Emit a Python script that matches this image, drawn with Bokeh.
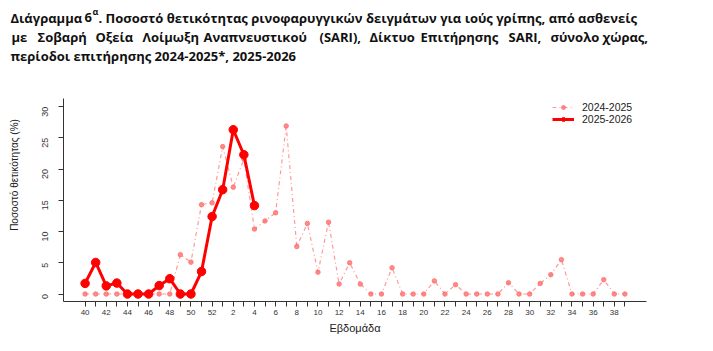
import math
from bokeh.plotting import figure
from bokeh.models import Legend, LegendItem, FixedTicker, Range1d
from bokeh.layouts import column
from bokeh.core.properties import value
from bokeh.embed import file_html
from bokeh.resources import INLINE

# ---- data ----
weeks = [40, 41, 42, 43, 44, 45, 46, 47, 48, 49, 50, 51, 52] + list(range(1, 40))
s2024 = [0, 0, 0, 0, 0, 0, 0, 0, 0, 6.3, 5.1, 14.3, 14.6,
         23.6, 17.1, 21.6, 10.4, 11.7, 13.0, 26.9, 7.6, 11.3, 3.5, 11.5, 1.6, 5.0,
         1.6, 0, 0, 4.2, 0, 0, 0, 2.1, 0, 1.5, 0, 0, 0, 0,
         1.8, 0, 0, 1.7, 3.1, 5.5, 0, 0, 0, 2.3, 0, 0]
s2025 = [1.7, 5.05, 1.3, 1.75, 0, 0, 0, 1.35, 2.45, 0, 0, 3.6, 12.4,
         16.7, 26.3, 22.3, 14.15]
yticks = [0, 5, 10, 15, 20, 25, 30]
labels_series = ["2024-2025", "2025-2026"]
title_words1 = ["Διάγραμμα", "6"]
title_sup = "α"
title_line1b = ". Ποσοστό θετικότητας ρινοφαρυγγικών δειγμάτων για ιούς γρίπης, από ασθενείς"
title_line2 = "με Σοβαρή Οξεία Λοίμωξη Αναπνευστικού (SARI), Δίκτυο Επιτήρησης SARI, σύνολο χώρας,"
title_line3 = "περίοδοι  επιτήρησης 2024-2025*, 2025-2026"
xlabel = "Εβδομάδα"
ylabel = "Ποσοστό θετικότητας (%)"

xs24 = list(range(len(s2024)))
xs25 = list(range(len(s2025)))

W = 713
TH = 90           # title strip height
CH = 351 - TH     # chart height
L, R, T, B = 63, 67, 98 - TH, 50

# ---- title strip ----
t = figure(width=W, height=TH, output_backend="svg", toolbar_location=None,
           x_range=Range1d(0, W), y_range=Range1d(TH, 0),
           min_border=0, x_axis_type=None, y_axis_type=None)
t.frame_align = False
t.outline_line_color = None
t.xgrid.grid_line_color = None
t.ygrid.grid_line_color = None

tfont = value("Open Sans")
def ttext(xs, ys, texts, size="13px"):
    t.text(x=xs, y=ys, text=texts, text_font=tfont, text_font_size=size,
           text_font_style="bold", text_baseline="middle", text_color="#111111")

ttext([10, 84], [17, 17], title_words1)
ttext([92], [11], [title_sup], "9px")
ttext([98], [17], [title_line1b])
words2 = title_line2.split(" ")
xw2 = [11, 37, 95, 142, 203, 319, 369, 420, 508, 550, 602]
ttext(xw2, [36] * len(words2), words2)
ttext([10], [55], [title_line3])

# ---- chart ----
p = figure(width=W, height=CH, output_backend="svg", toolbar_location=None,
           x_range=Range1d(-2.04, 53.04), y_range=Range1d(-1.2, 31.3),
           min_border_left=L, min_border_right=R, min_border_top=T, min_border_bottom=B)
p.frame_align = False
p.outline_line_color = None
p.xgrid.grid_line_color = None
p.ygrid.grid_line_color = None

xa = p.xaxis[0]
xa.ticker = FixedTicker(ticks=list(range(len(weeks))))
xa.major_label_overrides = {i: (str(w) if i % 2 == 0 else "") for i, w in enumerate(weeks)}
xa.major_tick_out = 5
xa.major_tick_in = 0
xa.minor_tick_out = 0
xa.minor_tick_in = 0
xa.major_label_standoff = 3
xa.major_label_text_font = "Liberation Sans"
xa.major_label_text_font_size = "8px"
xa.major_label_text_color = "#333333"
xa.axis_line_color = "#333333"
xa.major_tick_line_color = "#333333"
xa.axis_label = xlabel
xa.axis_label_text_font = "Liberation Sans"
xa.axis_label_text_font_size = "11px"
xa.axis_label_text_font_style = "normal"
xa.axis_label_text_color = "#222222"
xa.axis_label_standoff = 4

ya = p.yaxis[0]
ya.ticker = FixedTicker(ticks=yticks)
ya.major_tick_out = 5
ya.major_tick_in = 0
ya.minor_tick_out = 0
ya.minor_tick_in = 0
ya.major_label_orientation = math.pi / 2
ya.major_label_standoff = 13
ya.major_label_text_font = "Liberation Sans"
ya.major_label_text_font_size = "9px"
ya.major_label_text_color = "#333333"
ya.axis_line_color = "#333333"
ya.major_tick_line_color = "#333333"
ya.axis_label = "\u00a0" * 18 + ylabel
ya.axis_label_text_font = "Liberation Sans"
ya.axis_label_text_font_size = "10px"
ya.axis_label_text_font_style = "normal"
ya.axis_label_text_color = "#222222"
ya.axis_label_standoff = 17

pink = "#ff6e6e"
l1 = p.line(xs24, s2024, line_color=pink, line_alpha=0.7, line_width=1.2, line_dash="4 3 1 3")
m1 = p.scatter(xs24, s2024, marker="circle", size=4.5, fill_color=pink, line_color=pink, alpha=0.8)
l2 = p.line(xs25, s2025, line_color="#ff0000", line_width=3)
m2 = p.scatter(xs25, s2025, marker="circle", size=8.5, fill_color="#ff0000", line_color="#ff0000")

leg = Legend(items=[LegendItem(label=labels_series[0], renderers=[l1, m1]),
                    LegendItem(label=labels_series[1], renderers=[l2, m2])],
             location=(487, 174), orientation="vertical",
             border_line_alpha=0, background_fill_alpha=0,
             label_text_font="Liberation Sans", label_text_font_size="10.5px",
             label_text_color="#222222",
             glyph_width=22, glyph_height=10, label_height=10, label_standoff=8,
             spacing=0, padding=2, margin=0)
p.add_layout(leg)

lay = column(t, p, spacing=0)
open("out.html", "w").write(file_html(lay, INLINE))
